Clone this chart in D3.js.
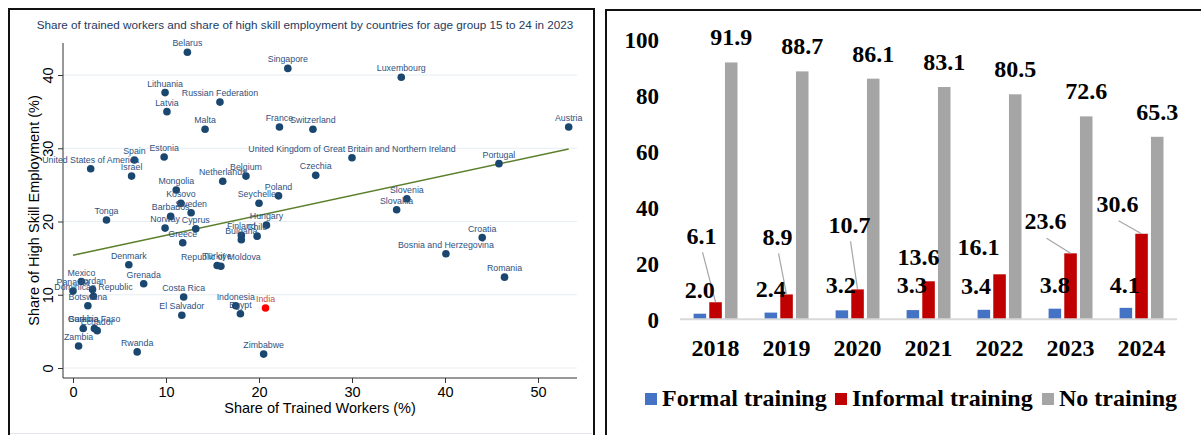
<!DOCTYPE html>
<html>
<head>
<meta charset="utf-8">
<script src="https://cdn.jsdelivr.net/npm/d3@7"></script>
<style>
  body { margin: 0; background: #fff; }
  svg { display: block; }
</style>
</head>
<body>
<svg id="chart" width="1201" height="435"></svg>
<script>
"use strict";

// ---- left panel: scatter of trained workers vs high skill employment ----
const countries = [
  "Belarus", "Singapore", "Luxembourg", "Lithuania", "Russian Federation", "Latvia",
  "Malta", "France", "Switzerland", "Austria", "United States of America", "Spain",
  "Estonia", "Israel", "United Kingdom of Great Britain and Northern Ireland", "Czechia",
  "Portugal", "Netherlands", "Belgium", "Mongolia", "Kosovo", "Sweden", "Seychelles",
  "Poland", "Slovenia", "Slovakia", "Barbados", "Tonga", "Norway", "Cyprus", "Greece",
  "Hungary", "Finland", "Bulgaria", "Chile", "Croatia", "Bosnia and Herzegovina",
  "Romania", "Denmark", "Türkiye", "Republic of Moldova", "Grenada", "Mexico", "Panama",
  "Jordan", "Dominican Republic", "Botswana", "Costa Rica", "El Salvador", "Indonesia",
  "Egypt", "India", "Gambia", "Burkina Faso", "Ecuador", "Zambia", "Rwanda", "Zimbabwe"
];
const trainedShare = [
  12.3, 23.1, 35.3, 9.9, 15.8, 10.1,
  14.2, 22.2, 25.8, 53.3, 1.9, 6.6,
  9.8, 6.3, 30.0, 26.1,
  45.8, 16.1, 18.6, 11.1, 11.6, 12.7, 20.0,
  22.1, 35.9, 34.8, 10.5, 3.6, 9.9, 13.2, 11.8,
  20.8, 18.1, 18.1, 19.8, 44.0, 40.1,
  46.4, 6.0, 15.5, 15.9, 7.6, 0.9, 0.0,
  2.1, 2.2, 1.6, 11.9, 11.7, 17.5,
  18.0, 20.7, 1.1, 2.3, 2.6, 0.6, 6.9, 20.5
];
const highSkillShare = [
  43.1, 40.9, 39.7, 37.6, 36.3, 35.0,
  32.6, 32.9, 32.6, 32.9, 27.2, 28.4,
  28.8, 26.2, 28.7, 26.3,
  27.9, 25.5, 26.2, 24.3, 22.5, 21.2, 22.5,
  23.5, 23.1, 21.6, 20.7, 20.2, 19.1, 19.0, 17.1,
  19.5, 18.1, 17.5, 18.0, 17.8, 15.6,
  12.4, 14.1, 14.0, 13.9, 11.5, 11.8, 10.5,
  10.7, 9.8, 8.5, 9.7, 7.2, 8.5,
  7.4, 8.2, 5.4, 5.4, 5.1, 3.0, 2.2, 1.9
];
const highlightCountry = "India";
// fitted line end points
const fitX = [0, 53.3];
const fitY = [15.4, 29.9];
const scatterXTicks = [0, 10, 20, 30, 40, 50];
const scatterYTicks = [0, 10, 20, 30, 40];

// ---- right panel: training by year ----
const years = ["2018", "2019", "2020", "2021", "2022", "2023", "2024"];
const formalTraining = [2.0, 2.4, 3.2, 3.3, 3.4, 3.8, 4.1];
const informalTraining = [6.1, 8.9, 10.7, 13.6, 16.1, 23.6, 30.6];
const noTraining = [91.9, 88.7, 86.1, 83.1, 80.5, 72.6, 65.3];
const seriesNames = ["Formal training", "Informal training", "No training"];
const barTicks = [0, 20, 40, 60, 80, 100];

// label nudges (px) for the hand-placed Excel labels
const informalLabelShift = [[-14, -58], [-9, -49], [-8, -56], [-10, -16], [-21, -19], [-25, -24], [-24, -22]];
const formalLabelShift = [[0, -16], [0, -16], [-1, -17], [-1, -17], [-8, -16], [0, -16], [-1, -15]];
const leaderLine = [true, true, true, false, false, true, true];

const svg = d3.select("#chart");

// =================== scatter ===================
const sg = svg.append("g").attr("class", "scatter");
const navy = "#1a476f";

sg.append("rect")
  .attr("x", 9).attr("y", 9).attr("width", 585).attr("height", 440)
  .attr("fill", "none").attr("stroke", "#111").attr("stroke-width", 2);
sg.append("line")
  .attr("x1", 10).attr("x2", 592).attr("y1", 433.5).attr("y2", 433.5)
  .attr("stroke", "#e3e6ea").attr("stroke-width", 1);

const sx = d3.scaleLinear().domain([0, 50]).range([73, 538]);
const sy = d3.scaleLinear().domain([0, 40]).range([368, 75]);
const plotLeft = 63, plotRight = 577, plotTop = 43, plotBottom = 378;

sg.append("text")
  .attr("x", 305).attr("y", 29)
  .attr("text-anchor", "middle")
  .style("font-family", "Liberation Sans, Arial, sans-serif")
  .style("font-size", "11.7px")
  .style("fill", "#1e3a5f")
  .text("Share of trained workers and share of high skill employment by countries for age group 15 to 24 in 2023");

// gridlines
sg.selectAll(".grid").data(scatterYTicks).enter().append("line")
  .attr("class", "grid")
  .attr("x1", plotLeft).attr("x2", plotRight)
  .attr("y1", d => sy(d)).attr("y2", d => sy(d))
  .attr("stroke", "#e6eef1").attr("stroke-width", 1.2);

// y axis
const yAxisG = sg.append("g").attr("transform", `translate(${plotLeft},0)`);
yAxisG.call(d3.axisLeft(sy).tickValues(scatterYTicks).tickSize(5).tickPadding(9));
yAxisG.select(".domain").attr("d", `M0,${plotTop}V${plotBottom}`).attr("stroke", "#333");
yAxisG.selectAll(".tick line").attr("stroke", "#333");
yAxisG.selectAll(".tick text")
  .attr("x", 0).attr("dy", null)
  .attr("transform", "translate(-10,0) rotate(-90)")
  .attr("text-anchor", "middle")
  .style("font-family", "Liberation Sans, Arial, sans-serif")
  .style("font-size", "14.5px")
  .style("fill", "#000");

// x axis
const xAxisG = sg.append("g").attr("transform", `translate(0,${plotBottom})`);
xAxisG.call(d3.axisBottom(sx).tickValues(scatterXTicks).tickSize(5).tickPadding(4));
xAxisG.select(".domain").attr("d", `M${plotLeft},0H${plotRight}`).attr("stroke", "#333");
xAxisG.selectAll(".tick line").attr("stroke", "#333");
xAxisG.selectAll(".tick text")
  .style("font-family", "Liberation Sans, Arial, sans-serif")
  .style("font-size", "14.5px")
  .style("fill", "#000");

sg.append("text")
  .attr("x", 320).attr("y", 413)
  .attr("text-anchor", "middle")
  .style("font-family", "Liberation Sans, Arial, sans-serif")
  .style("font-size", "14.5px")
  .text("Share of Trained Workers (%)");
sg.append("text")
  .attr("transform", `translate(39,${(plotTop + plotBottom) / 2}) rotate(-90)`)
  .attr("text-anchor", "middle")
  .style("font-family", "Liberation Sans, Arial, sans-serif")
  .style("font-size", "14.5px")
  .text("Share of High Skill Employment (%)");

// fit line
sg.append("line")
  .attr("x1", sx(fitX[0])).attr("y1", sy(fitY[0]))
  .attr("x2", sx(fitX[1])).attr("y2", sy(fitY[1]))
  .attr("stroke", "#5b7f2b").attr("stroke-width", 1.5);

const points = countries.map((c, i) => ({ name: c, x: trainedShare[i], y: highSkillShare[i] }));

sg.selectAll(".dot").data(points).enter().append("circle")
  .attr("class", "dot")
  .attr("cx", d => sx(d.x))
  .attr("cy", d => sy(d.y))
  .attr("r", 3.8)
  .attr("fill", d => d.name === highlightCountry ? "#ff0000" : navy);

sg.selectAll(".dot_label").data(points).enter().append("text")
  .attr("class", "dot_label")
  .attr("x", d => sx(d.x))
  .attr("y", d => sy(d.y) - 6)
  .attr("text-anchor", "middle")
  .style("font-family", "Liberation Sans, Arial, sans-serif")
  .style("font-size", "8.8px")
  .style("fill", d => d.name === highlightCountry ? "#c0504d" : "#2e5281")
  .text(d => d.name);

// =================== bars ===================
const bg = svg.append("g").attr("class", "bars");
const serif = "Liberation Serif, Times New Roman, serif";
const colors = ["#4472c4", "#c00000", "#a5a5a5"];

bg.append("rect")
  .attr("x", 606).attr("y", 10).attr("width", 620).attr("height", 440)
  .attr("fill", "none").attr("stroke", "#111").attr("stroke-width", 2);

const bx = d3.scaleBand().domain(years).range([680, 1177]);
const bxi = d3.scaleBand().domain(seriesNames).range([13.6, 57.5]).paddingInner(0.2);
const by = d3.scaleLinear().domain([0, 100]).range([319.3, 39.8]);

bg.selectAll(".ytick").data(barTicks).enter().append("text")
  .attr("class", "ytick")
  .attr("x", 659)
  .attr("y", d => by(d))
  .attr("dy", "0.36em")
  .attr("text-anchor", "end")
  .style("font-family", serif).style("font-weight", "bold").style("font-size", "23px")
  .text(d => d);

const table = years.map((yr, i) => ({
  year: yr, i: i,
  vals: [formalTraining[i], informalTraining[i], noTraining[i]]
}));

const groups = bg.selectAll(".yr").data(table).enter().append("g")
  .attr("class", "yr")
  .attr("transform", d => `translate(${bx(d.year)},0)`);

groups.selectAll("rect").data(d => d.vals.map((v, k) => ({ k: k, v: v }))).enter().append("rect")
  .attr("x", d => bxi(seriesNames[d.k]))
  .attr("width", bxi.bandwidth())
  .attr("y", d => by(d.v))
  .attr("height", d => by(0) - by(d.v))
  .attr("fill", d => colors[d.k]);

// axis baseline
bg.append("line")
  .attr("x1", 680).attr("x2", 1177)
  .attr("y1", by(0)).attr("y2", by(0))
  .attr("stroke", "#d9d9d9").attr("stroke-width", 2);

const labelStyle = sel => sel
  .attr("text-anchor", "middle")
  .style("font-family", serif).style("font-weight", "bold").style("font-size", "24px")
  .style("fill", "#000");

// no training labels
groups.append("text")
  .attr("x", bxi(seriesNames[2]) + bxi.bandwidth() / 2)
  .attr("y", d => by(d.vals[2]) - 17)
  .call(labelStyle)
  .text(d => d.vals[2].toFixed(1));

// leader lines for informal labels
groups.filter(d => leaderLine[d.i]).append("line")
  .attr("x1", d => bxi(seriesNames[1]) + bxi.bandwidth() / 2 + informalLabelShift[d.i][0] + 1)
  .attr("y1", d => by(d.vals[1]) + informalLabelShift[d.i][1] + (d.i < 3 ? 8 : 9))
  .attr("x2", bxi(seriesNames[1]) + bxi.bandwidth() / 2)
  .attr("y2", d => by(d.vals[1]))
  .attr("stroke", "#a6a6a6").attr("stroke-width", 1.2);

// informal labels
groups.append("text")
  .attr("x", d => bxi(seriesNames[1]) + bxi.bandwidth() / 2 + informalLabelShift[d.i][0])
  .attr("y", d => by(d.vals[1]) + informalLabelShift[d.i][1])
  .call(labelStyle)
  .text(d => d.vals[1].toFixed(1));

// formal labels
groups.append("text")
  .attr("x", d => bxi(seriesNames[0]) + bxi.bandwidth() / 2 + formalLabelShift[d.i][0])
  .attr("y", d => by(d.vals[0]) + formalLabelShift[d.i][1])
  .call(labelStyle)
  .text(d => d.vals[0].toFixed(1));

// year labels
bg.selectAll(".xlab").data(years).enter().append("text")
  .attr("class", "xlab")
  .attr("x", d => bx(d) + bx.bandwidth() / 2)
  .attr("y", 356)
  .call(labelStyle)
  .text(d => d);

// legend
const legendX = [645, 835, 1042];
const legend = bg.selectAll(".leg").data(seriesNames).enter().append("g")
  .attr("class", "leg")
  .attr("transform", (d, i) => `translate(${legendX[i]},393)`);
legend.append("rect")
  .attr("width", 12).attr("height", 12)
  .attr("fill", (d, i) => colors[i]);
legend.append("text")
  .attr("x", 17).attr("y", 13)
  .style("font-family", serif).style("font-weight", "bold").style("font-size", "24px")
  .text(d => d);
</script>
</body>
</html>
